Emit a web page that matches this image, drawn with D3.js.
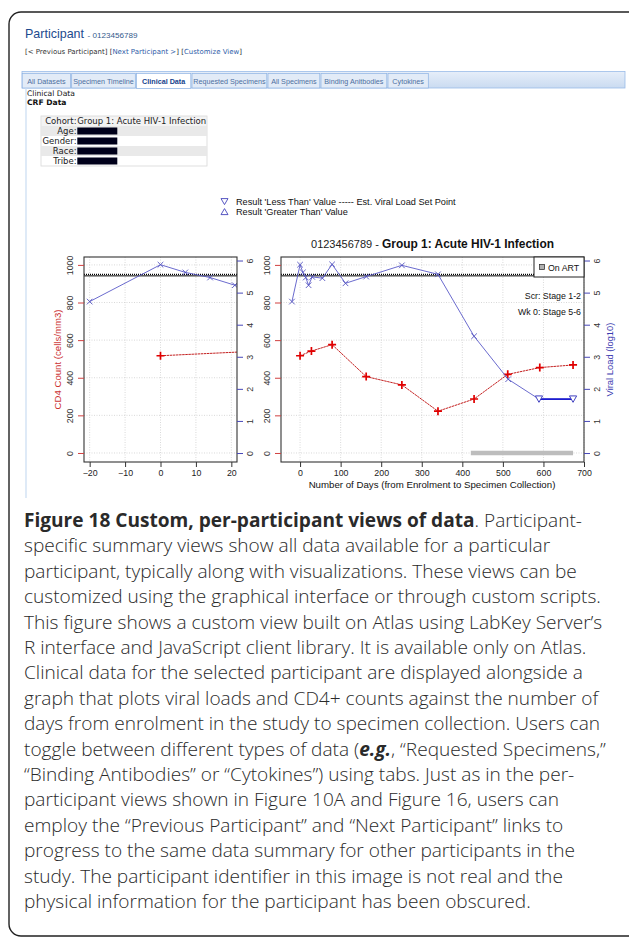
<!DOCTYPE html>
<html><head><meta charset="utf-8">
<script src="https://cdn.jsdelivr.net/npm/d3@7"></script>
<style>body{margin:0;background:#fff}svg{display:block}</style>
</head><body>
<svg id="c" width="629" height="939"></svg>
<script>
// ---------------- data ----------------
const vlDays    = [-20, 0, 7, 14, 21, 30, 55, 79, 112, 163, 251, 340, 429, 513, 589, 673];
const vlValues  = [4.72, 5.87, 5.63, 5.47, 5.23, 5.49, 5.45, 5.88, 5.29, 5.50, 5.85, 5.57, 3.64, 2.30, 1.68, 1.68];
const vlCensor  = ["", "", "", "", "", "", "", "", "", "", "", "", "", "", "<", "<"];
const cd4Days   = [0, 28, 79, 163, 251, 340, 429, 512, 591, 673];
const cd4Values = [517, 542, 576, 406, 362, 222, 287, 418, 454, 468];
const setPoint  = [5.55];
const onArtDays = [421, 673];
const cd4Ticks  = [0, 200, 400, 600, 800, 1000];
const vlTicks   = [0, 1, 2, 3, 4, 5, 6];
const leftDayTicks  = [-20, -10, 0, 10, 20];
const rightDayTicks = [0, 100, 200, 300, 400, 500, 600, 700];
const tabs = ["All Datasets", "Specimen Timeline", "Clinical Data", "Requested Specimens", "All Specimens", "Binding Anitbodies", "Cytokines"];
const activeTab = "Clinical Data";
const crfLabels = ["Cohort:", "Age:", "Gender:", "Race:", "Tribe:"];
const cohortValue = "Group 1: Acute HIV-1 Infection";
const stageNotes = ["Scr: Stage 1-2", "Wk 0: Stage 5-6"];
const legendLines = ["Result 'Less Than' Value -----  Est. Viral Load Set Point", "Result 'Greater Than' Value"];
const captionLines = [
  [["b","Figure 18 Custom, per-participant views of data"],["n",". Participant-"]],
  [["n","specific summary views show all data available for a particular"]],
  [["n","participant, typically along with visualizations. These views can be"]],
  [["n","customized using the graphical interface or through custom scripts."]],
  [["n","This figure shows a custom view built on Atlas using LabKey Server\u2019s"]],
  [["n","R interface and JavaScript client library. It is available only on Atlas."]],
  [["n","Clinical data for the selected participant are displayed alongside a"]],
  [["n","graph that plots viral loads and CD4+ counts against the number of"]],
  [["n","days from enrolment in the study to specimen collection. Users can"]],
  [["n","toggle between different types of data ("],["bi","e.g."],["n",", \u201cRequested Specimens,\u201d"]],
  [["n","\u201cBinding Antibodies\u201d or \u201cCytokines\u201d) using tabs. Just as in the per-"]],
  [["n","participant views shown in Figure 10A and Figure 16, users can"]],
  [["n","employ the \u201cPrevious Participant\u201d and \u201cNext Participant\u201d links to"]],
  [["n","progress to the same data summary for other participants in the"]],
  [["n","study. The participant identifier in this image is not real and the"]],
  [["n","physical information for the participant has been obscured."]]
];

// ---------------- helpers ----------------
const svg = d3.select("#c");
const defs = svg.append("defs");
function fit(sel, target) {
  const w = sel.node().getComputedTextLength();
  const fs = parseFloat(sel.attr("font-size"));
  sel.attr("font-size", (fs * target / w).toFixed(2));
  return sel;
}
const UI = "DejaVu Sans, Verdana, sans-serif";
const RF = "Liberation Sans, Arial, sans-serif";

// outer frame
svg.append("rect").attr("x", 9).attr("y", 12).attr("width", 660).attr("height", 924)
  .attr("rx", 12).attr("fill", "none").attr("stroke", "#222").attr("stroke-width", 1.4);

// header
const h1 = svg.append("text").attr("x", 25).attr("y", 37.5).attr("font-family", RF).attr("font-size", 13).attr("fill", "#1d4a8e").text("Participant");
fit(h1, 59);
const h2 = svg.append("text").attr("x", 87.5).attr("y", 37.5).attr("font-family", RF).attr("font-size", 9).attr("fill", "#355a8c").text("- 0123456789");
fit(h2, 50);

const links = svg.append("text").attr("x", 25).attr("y", 54).attr("font-family", UI).attr("font-size", 7).attr("fill", "#333");
links.append("tspan").text("[< Previous Participant] [");
links.append("tspan").attr("fill", "#2f5da8").text("Next Participant >");
links.append("tspan").text("] [");
links.append("tspan").attr("fill", "#2f5da8").text("Customize View");
links.append("tspan").text("]");
fit(links, 217);

// tab strip
const grad = defs.append("linearGradient").attr("id", "tg").attr("x1", 0).attr("x2", 0).attr("y1", 0).attr("y2", 1);
grad.append("stop").attr("offset", 0).attr("stop-color", "#e6eef9");
grad.append("stop").attr("offset", 1).attr("stop-color", "#cadbf1");
svg.append("rect").attr("x", 22).attr("y", 71.5).attr("width", 603).attr("height", 16.5)
  .attr("fill", "url(#tg)").attr("stroke", "#99bbe8").attr("stroke-width", 0.8);
const tabEdges = [21.7, 71.2, 136, 191.5, 267.5, 320.5, 387.5, 429];
const tabX = d3.scaleOrdinal().domain(tabs).range(tabEdges.slice(0, -1));
tabs.forEach((t, i) => {
  const x0 = tabX(t), x1 = tabEdges[i + 1] - 1.2;
  const act = t === activeTab;
  svg.append("rect").attr("x", x0 + 0.5).attr("y", 73.5).attr("width", x1 - x0).attr("height", act ? 15 : 14.5)
    .attr("fill", act ? "#ffffff" : "#e2ebf7").attr("stroke", "#8db2e3").attr("stroke-width", 0.7);
  svg.append("text").attr("x", (x0 + x1) / 2 + 0.5).attr("y", 83.5).attr("text-anchor", "middle")
    .attr("font-family", RF).attr("font-size", 7.2).attr("font-weight", act ? "bold" : "normal")
    .attr("fill", act ? "#15428b" : "#4d6f9f").text(t);
});

// left light-blue rule of the content panel
svg.append("line").attr("x1", 26).attr("x2", 26).attr("y1", 88).attr("y2", 498).attr("stroke", "#c9dcf2").attr("stroke-width", 1.2);

svg.append("text").attr("x", 27).attr("y", 95.5).attr("font-family", UI).attr("font-size", 7.6).attr("fill", "#111").text("Clinical Data");
svg.append("text").attr("x", 27).attr("y", 104.5).attr("font-family", UI).attr("font-size", 7.6).attr("font-weight", "bold").attr("fill", "#111").text("CRF Data");

// CRF table
const rowY = d3.scaleBand().domain(crfLabels).range([116, 166]);
const rowFill = ["#f3f3f3", "#e9e9e9", "#ffffff", "#e9e9e9", "#ffffff"];
crfLabels.forEach((l, i) => {
  svg.append("rect").attr("x", 41.5).attr("y", rowY(l)).attr("width", 165).attr("height", rowY.bandwidth()).attr("fill", rowFill[i]);
});
svg.append("rect").attr("x", 41).attr("y", 116).attr("width", 166).attr("height", 50).attr("fill", "none").attr("stroke", "#d8d8d8").attr("stroke-width", 0.8);
const cohort = svg.append("text").attr("x", 45).attr("y", rowY("Cohort:") + 7.6).attr("font-family", UI).attr("font-size", 7.4).attr("fill", "#222")
  .text("Cohort:" + cohortValue);
fit(cohort, 160);
const tfs = cohort.attr("font-size");
cohort.remove();
crfLabels.forEach((l, i) => {
  svg.append("text").attr("x", 76.5).attr("y", rowY(l) + 7.6).attr("text-anchor", "end").attr("font-family", UI).attr("font-size", tfs).attr("fill", "#222").text(l);
  if (i === 0) svg.append("text").attr("x", 77.3).attr("y", rowY(l) + 7.6).attr("font-family", UI).attr("font-size", tfs).attr("fill", "#222").text(cohortValue);
  else svg.append("rect").attr("x", 77.3).attr("y", rowY(l) + 1.5).attr("width", 40).attr("height", 7).attr("fill", "#00001a");
});

// legend (above the plots)
const lg = svg.append("g");
const lx = 236;
const l1 = lg.append("text").attr("x", lx).attr("y", 205).attr("font-family", RF).attr("font-size", 9).attr("fill", "#111").text(legendLines[0]);
fit(l1, 456 - lx);
lg.append("text").attr("x", lx).attr("y", 215).attr("font-family", RF).attr("font-size", l1.attr("font-size")).attr("fill", "#111").text(legendLines[1]);
lg.append("path").attr("d", `M${lx-15},${198.6}h7l-3.5,6z`).attr("fill", "none").attr("stroke", "#4444bb").attr("stroke-width", 0.9);
lg.append("path").attr("d", `M${lx-15},${214.6}h7l-3.5,-6z`).attr("fill", "none").attr("stroke", "#4444bb").attr("stroke-width", 0.9);

// title
const title = svg.append("text").attr("x", 432.5).attr("y", 248).attr("text-anchor", "middle").attr("font-family", RF).attr("font-size", 12.5).attr("fill", "#111");
title.append("tspan").attr("font-size", 11).attr("fill", "#222").text("0123456789 - ");
title.append("tspan").attr("font-weight", "bold").text("Group 1: Acute HIV-1 Infection");
fit(title, 240);

// ---------------- panels ----------------
const yTop = 257, yBot = 462;
const yCD4 = d3.scaleLinear().domain([-48, 1042]).range([yBot, yTop]);
const yVL  = d3.scaleLinear().domain([-0.28, 6.11]).range([yBot, yTop]);
const xLeft  = d3.scaleLinear().domain([-21.6, 21.6]).range([84, 237]);
const xRight = d3.scaleLinear().domain([-47, 700]).range([281, 584]);

const vlData  = vlDays.map((d, i) => ({d, v: vlValues[i], c: vlCensor[i]}));
const cd4Data = cd4Days.map((d, i) => ({d, v: cd4Values[i]}));
const fmt = d3.format("d");

function panel(id, x, ticks, withLegend) {
  const [x0, x1] = x.range();
  const g = svg.append("g");
  defs.append("clipPath").attr("id", id).append("rect")
    .attr("x", x0).attr("y", yTop).attr("width", x1 - x0).attr("height", yBot - yTop);
  // grid
  g.selectAll(".gv").data(ticks).join("line").attr("x1", d => x(d)).attr("x2", d => x(d))
    .attr("y1", yTop).attr("y2", yBot).attr("stroke", "#cfcfcf").attr("stroke-width", 0.8).attr("stroke-dasharray", "1,1.5");
  g.selectAll(".gh").data(cd4Ticks).join("line").attr("x1", x0).attr("x2", x1).attr("y1", d => yCD4(d)).attr("y2", d => yCD4(d))
    .attr("stroke", "#cfcfcf").attr("stroke-width", 0.8).attr("stroke-dasharray", "1,1.5");
  const c = g.append("g").attr("clip-path", `url(#${id})`);
  // set point
  setPoint.forEach(s => {
    c.append("line").attr("x1", x0).attr("x2", x1).attr("y1", yVL(s) + 0.9).attr("y2", yVL(s) + 0.9).attr("stroke", "#000").attr("stroke-width", 1);
    c.append("line").attr("x1", x0).attr("x2", x1).attr("y1", yVL(s) - 0.6).attr("y2", yVL(s) - 0.6).attr("stroke", "#000").attr("stroke-width", 1.1).attr("stroke-dasharray", "1,1");
  });
  // on ART bar
  c.append("line").attr("x1", x(onArtDays[0])).attr("x2", x(onArtDays[1])).attr("y1", yCD4(0)).attr("y2", yCD4(0))
    .attr("stroke", "#bdbdbd").attr("stroke-width", 4.5);
  // CD4
  c.append("path").datum(cd4Data).attr("fill", "none").attr("stroke", "#c42020").attr("stroke-width", 1)
    .attr("stroke-dasharray", "2.5,0.6").attr("d", d3.line().x(d => x(d.d)).y(d => yCD4(d.v)));
  c.selectAll(".p").data(cd4Data).join("path").attr("transform", d => `translate(${x(d.d)},${yCD4(d.v)})`)
    .attr("d", "M-4,0H4M0,-4V4").attr("stroke", "#e00000").attr("stroke-width", 1.7);
  // VL
  c.append("path").datum(vlData).attr("fill", "none").attr("stroke", "#5a5ac8").attr("stroke-width", 0.9)
    .attr("d", d3.line().x(d => x(d.d)).y(d => yVL(d.v)));
  c.append("path").datum(vlData.filter(d => d.c === "<")).attr("fill", "none").attr("stroke", "#1c1cd0").attr("stroke-width", 1.8)
    .attr("d", d3.line().x(d => x(d.d)).y(d => yVL(d.v)));
  c.selectAll(".x").data(vlData.filter(d => d.c === "")).join("path").attr("transform", d => `translate(${x(d.d)},${yVL(d.v)})`)
    .attr("d", "M-2.8,-2.8L2.8,2.8M-2.8,2.8L2.8,-2.8").attr("stroke", "#5252c0").attr("stroke-width", 0.9);
  c.selectAll(".t").data(vlData.filter(d => d.c === "<")).join("path").attr("transform", d => `translate(${x(d.d)},${yVL(d.v)})`)
    .attr("d", "M-3.6,-3.2H3.6L0,3.2Z").attr("fill", "#fff").attr("stroke", "#4040c0").attr("stroke-width", 1);
  // box
  g.append("rect").attr("x", x0).attr("y", yTop).attr("width", x1 - x0).attr("height", yBot - yTop)
    .attr("fill", "none").attr("stroke", "#333").attr("stroke-width", 1.1);
  // axes
  const ax = g.append("g").attr("transform", `translate(0,${yBot})`)
    .call(d3.axisBottom(x).tickValues(ticks).tickSize(5).tickPadding(3).tickFormat(fmt));
  ax.select(".domain").remove();
  ax.selectAll("line").attr("stroke", "#333");
  ax.selectAll("text").attr("font-family", RF).attr("font-size", 8.8).attr("fill", "#222");
  const al = g.append("g").attr("transform", `translate(${x0},0)`).call(d3.axisLeft(yCD4).tickValues(cd4Ticks).tickSize(6).tickFormat(fmt));
  al.select(".domain").remove();
  al.selectAll("line").attr("stroke", "#d04040");
  al.selectAll("text").attr("font-family", RF).attr("font-size", 8.8).attr("fill", "#333")
    .attr("transform", "rotate(-90)").attr("x", 0).attr("y", -11).attr("dy", 0).attr("text-anchor", "middle");
  const ar = g.append("g").attr("transform", `translate(${x1},0)`).call(d3.axisRight(yVL).tickValues(vlTicks).tickSize(6).tickFormat(fmt));
  ar.select(".domain").remove();
  ar.selectAll("line").attr("stroke", "#4848b8");
  ar.selectAll("text").attr("font-family", RF).attr("font-size", 8.8).attr("fill", "#333")
    .attr("transform", "rotate(-90)").attr("x", 0).attr("y", 16).attr("dy", 0).attr("text-anchor", "middle");
  if (withLegend) {
    g.append("rect").attr("x", 534).attr("y", yTop).attr("width", x1 - 534).attr("height", 20).attr("fill", "#fff").attr("stroke", "#222").attr("stroke-width", 1);
    g.append("rect").attr("x", 539.5).attr("y", 264.5).attr("width", 5).attr("height", 5).attr("fill", "#b0b0b0").attr("stroke", "#222").attr("stroke-width", 0.7);
    g.append("text").attr("x", 548).attr("y", 270.5).attr("font-family", RF).attr("font-size", 8.8).attr("fill", "#111").text("On ART");
    stageNotes.forEach((s, i) => g.append("text").attr("x", 581).attr("y", 298.5 + i * 16.5).attr("text-anchor", "end")
      .attr("font-family", RF).attr("font-size", 8.8).attr("fill", "#111").text(s));
  }
  return g;
}
panel("clipL", xLeft, leftDayTicks, false);
panel("clipR", xRight, rightDayTicks, true);

// axis titles
const cd4Lab = svg.append("text").attr("transform", `translate(61,${(yTop + yBot) / 2}) rotate(-90)`).attr("text-anchor", "middle")
  .attr("font-family", RF).attr("font-size", 9).attr("fill", "#cc3333").text("CD4 Count (cells/mm3)");
fit(cd4Lab, 100);
const vlLab = svg.append("text").attr("transform", `translate(613,${(yTop + yBot) / 2}) rotate(-90)`).attr("text-anchor", "middle")
  .attr("font-family", RF).attr("font-size", 9).attr("fill", "#3a3ab0").text("Viral Load (log10)");
fit(vlLab, 74);
const xt = svg.append("text").attr("x", 432).attr("y", 488).attr("text-anchor", "middle").attr("font-family", RF).attr("font-size", 9)
  .attr("fill", "#111").text("Number of Days (from Enrolment to Specimen Collection)");
fit(xt, 247);

// caption
const cap = svg.append("g").attr("font-family", "Open Sans, sans-serif").attr("fill", "#2a2a2a");
const lineY = d3.scaleLinear().domain([0, 15]).range([527, 908]);
const probe = cap.append("text").attr("font-size", 16).attr("font-weight", 300).text(captionLines[3][0][1]);
const capFs = 16 * 577 / probe.node().getComputedTextLength();
probe.remove();
captionLines.forEach((parts, i) => {
  const t = cap.append("text").attr("x", 24).attr("y", lineY(i)).attr("font-size", capFs.toFixed(2)).attr("font-weight", 300);
  parts.forEach(([s, str]) => {
    const sp = t.append("tspan").text(str);
    if (s === "b" || s === "bi") sp.attr("font-weight", "bold");
    if (s === "bi") sp.attr("font-style", "italic");
  });
});
</script>
</body></html>
